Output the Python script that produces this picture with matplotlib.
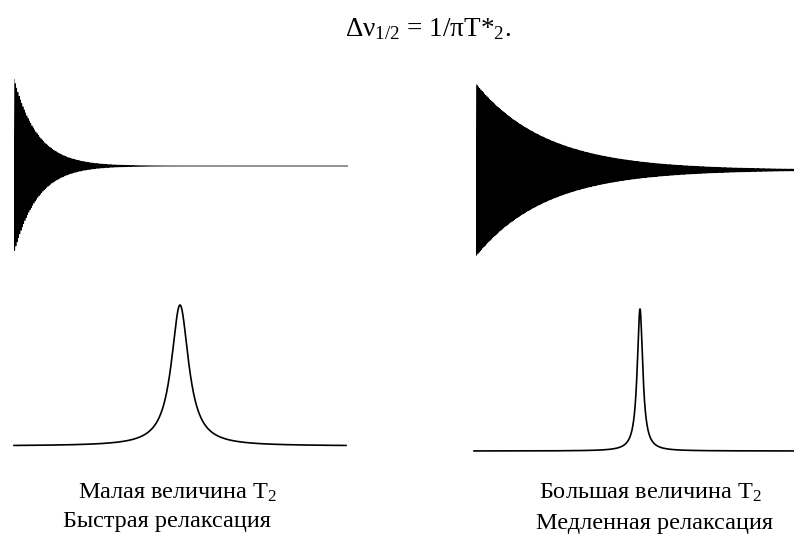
import numpy as np
import matplotlib
matplotlib.use("Agg")
import matplotlib.pyplot as plt

plt.rcParams['font.family'] = ['Liberation Serif', 'DejaVu Serif']
plt.rcParams['mathtext.fontset'] = 'custom'
plt.rcParams['mathtext.rm'] = 'Liberation Serif'
plt.rcParams['mathtext.it'] = 'Liberation Serif:italic'

# relaxation times (s) for the two cases: short T2 and long T2
t2_values = [0.07, 0.22]
carrier_hz = 260.0          # offset frequency of the FID
t_end = 1.0                 # acquisition time shown (s)
freq_lim = [-36.0, 36.0]    # spectral window (Hz)

title = "Δν$_{1/2}$ = 1/πT*$_2$."
captions = [
    ["Малая величина T$_2$", "Быстрая релаксация"],
    ["Большая величина T$_2$", "Медленная релаксация"],
]

W, H = 794, 538
fig = plt.figure(figsize=(W / 100, H / 100), dpi=100)


def box(x0, y0, x1, y1):
    # pixel box (top-left origin) -> figure fraction rect
    return [x0 / W, 1 - y1 / H, (x1 - x0) / W, (y1 - y0) / H]


fid_boxes = [box(14, 79, 348, 253), box(476, 84, 794, 256)]
spec_boxes = [box(14, 305, 346, 446), box(474, 309, 806, 451)]

t = np.linspace(0, t_end, 40000)
f = np.linspace(freq_lim[0], freq_lim[1], 4000)

for i, T2 in enumerate(t2_values):
    # free induction decay
    ax = fig.add_axes(fid_boxes[i])
    fid = np.exp(-t / T2) * np.cos(2 * np.pi * carrier_hz * t)
    ax.plot(t, fid, color='black', lw=0.6)
    ax.set_xlim(0, t_end)
    ax.set_ylim(-1, 1)
    ax.axis('off')

    # Lorentzian line, half width 1/(2*pi*T2)
    ax = fig.add_axes(spec_boxes[i])
    g = 1 / (2 * np.pi * T2)
    line = g ** 2 / (f ** 2 + g ** 2)
    ax.plot(f, line, color='black', lw=1.2, clip_on=False)
    ax.set_xlim(*freq_lim)
    ax.set_ylim(0, 1)
    ax.axis('off')

fig.text(428 / W, 1 - 29 / H, title, ha='center', va='center', fontsize=19.5)

cap_pos = [[(178, 493), (167, 521)], [(650, 493), (655, 523)]]
for lines, pos in zip(captions, cap_pos):
    for txt, (x, y) in zip(lines, pos):
        fig.text(x / W, 1 - y / H, txt, ha='center', va='center', fontsize=17.5)

fig.savefig('out.png', dpi=100, facecolor='white')
